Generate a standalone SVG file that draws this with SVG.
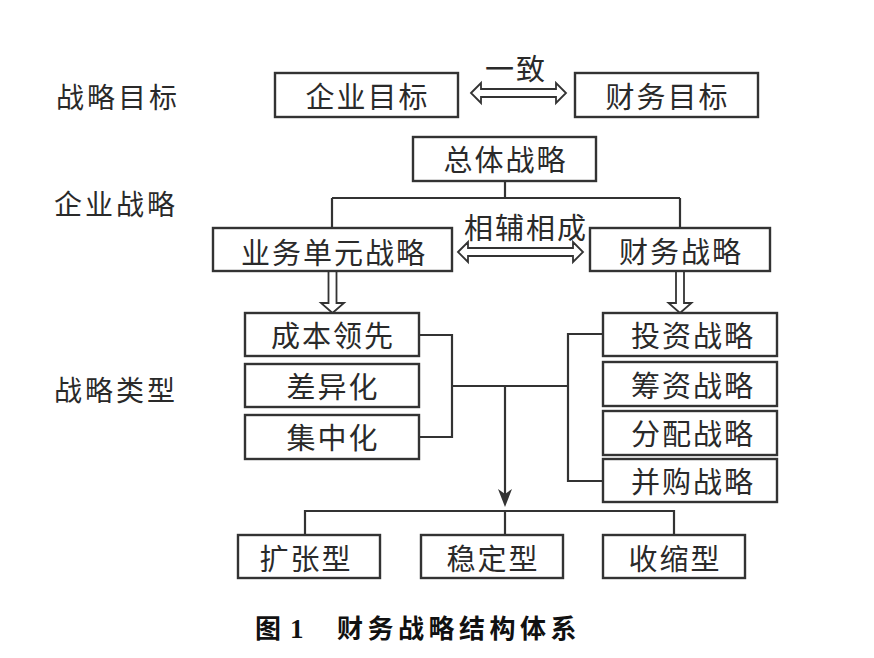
<svg xmlns="http://www.w3.org/2000/svg" width="874" height="658" viewBox="0 0 874 658">
<style>
.bg{fill:#ffffff}
.box{fill:#ffffff;stroke:#333333;stroke-width:2.4}
.ln{fill:none;stroke:#333333;stroke-width:2.2}
.harrow{fill:#ffffff;stroke:#333333;stroke-width:1.8;stroke-linejoin:miter}
.t{font-family:"Noto Sans CJK SC","Noto Sans CJK JP",sans-serif;font-size:29px;fill:#2a2a2a;text-anchor:middle;letter-spacing:2px}
.lab{font-family:"Noto Sans CJK SC","Noto Sans CJK JP",sans-serif;font-size:28px;fill:#2a2a2a;letter-spacing:3px}
.cap{font-family:"Noto Sans CJK SC","Noto Sans CJK JP",sans-serif;font-size:26px;font-weight:bold;fill:#111111}
</style>
<rect class="bg" x="0" y="0" width="874" height="658"/>

<g id="labels">
<text class="lab" x="56" y="108">战略目标</text>
<text class="lab" x="54" y="215">企业战略</text>
<text class="lab" x="54" y="401">战略类型</text>
</g>

<g id="connectors">
<polygon class="harrow" points="471,93 481,83 481,89 556,89 556,83 566,93 556,103 556,97 481,97 481,103"/>
<polygon class="harrow" points="458,252 468,242 468,248 573,248 573,242 583,252 573,262 573,256 468,256 468,262"/>
<path class="ln" d="M505,181 V198 M332,198 H680 M332,198 V228 M680,198 V228"/>
<polygon class="harrow" points="328.5,271 328.5,303 321,303 332.5,313 344,303 336.5,303 336.5,271"/>
<polygon class="harrow" points="676,271 676,303 668.5,303 680,313 691.5,303 684,303 684,271"/>
<path class="ln" d="M419,335 H452 V437 H419 M452,386 H568 M603,334 H568 V481 H603"/>
<path class="ln" d="M505,386 V496"/>
<polygon fill="#333333" points="505,507 498,489 505,494 512,489"/>
<path class="ln" d="M305,535 V511 H674 V535 M505,511 V535"/>
</g>

<g id="yizhi"><text class="t" x="516" y="80">一致</text></g>
<g id="xiangfu"><text class="t" x="526" y="239">相辅相成</text></g>

<g id="n-qiyemubiao"><rect class="box" x="275" y="73" width="183" height="44"/><text class="t" x="367.5" y="107.5">企业目标</text></g>
<g id="n-caiwumubiao"><rect class="box" x="575" y="73" width="183" height="44"/><text class="t" x="667.5" y="107.5">财务目标</text></g>
<g id="n-zongti"><rect class="box" x="413" y="137" width="183" height="44"/><text class="t" x="505.5" y="171">总体战略</text></g>
<g id="n-yewu"><rect class="box" x="213" y="228" width="239" height="43"/><text class="t" x="334" y="263.5">业务单元战略</text></g>
<g id="n-caiwu"><rect class="box" x="590" y="228" width="180" height="43"/><text class="t" x="681" y="263">财务战略</text></g>

<g id="n-chengben"><rect class="box" x="245" y="313" width="174" height="43"/><text class="t" x="333" y="347">成本领先</text></g>
<g id="n-chayi"><rect class="box" x="245" y="364" width="174" height="43"/><text class="t" x="333" y="397.5">差异化</text></g>
<g id="n-jizhong"><rect class="box" x="245" y="415" width="174" height="44"/><text class="t" x="333" y="449">集中化</text></g>

<g id="n-touzi"><rect class="box" x="603" y="313" width="174" height="43"/><text class="t" x="693" y="347">投资战略</text></g>
<g id="n-chouzi"><rect class="box" x="603" y="362" width="174" height="44"/><text class="t" x="693" y="396.5">筹资战略</text></g>
<g id="n-fenpei"><rect class="box" x="603" y="411" width="174" height="44"/><text class="t" x="693" y="445">分配战略</text></g>
<g id="n-binggou"><rect class="box" x="603" y="459" width="174" height="43"/><text class="t" x="693" y="493">并购战略</text></g>

<g id="n-kuozhang"><rect class="box" x="238" y="535" width="142" height="43"/><text class="t" x="306" y="569.5">扩张型</text></g>
<g id="n-wending"><rect class="box" x="421" y="535" width="142" height="43"/><text class="t" x="493" y="569.5">稳定型</text></g>
<g id="n-shousuo"><rect class="box" x="603" y="535" width="142" height="43"/><text class="t" x="675" y="569.5">收缩型</text></g>

<g id="caption">
<text class="cap" x="255" y="638">图</text>
<text class="cap" x="290" y="638" style="font-family:'Liberation Serif',serif;font-size:27px">1</text>
<text class="cap" x="337" y="638" style="letter-spacing:4.5px">财务战略结构体系</text>
</g>
</svg>
